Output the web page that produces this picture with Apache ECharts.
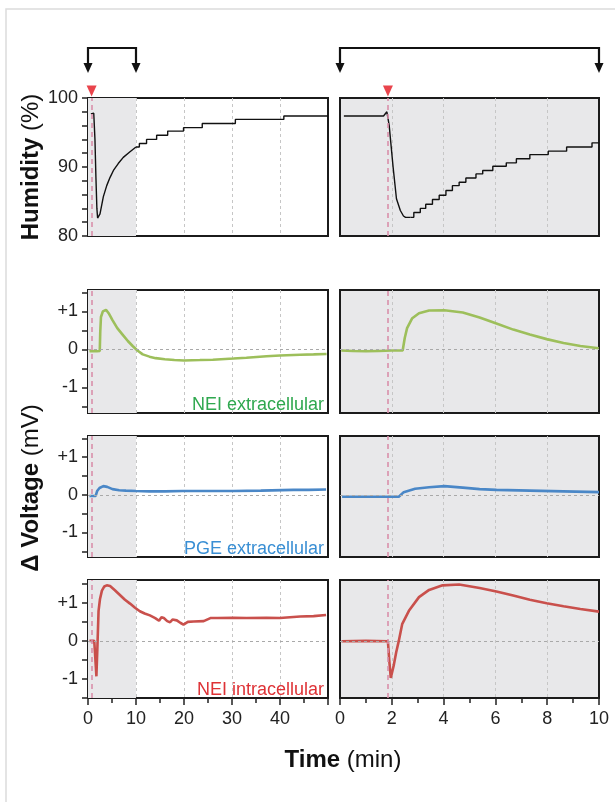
<!DOCTYPE html>
<html>
<head>
<meta charset="utf-8">
<title>Humidity and voltage response</title>
<script src="https://cdn.jsdelivr.net/npm/echarts@6/dist/echarts.min.js"></script>
<style>
  html, body { margin: 0; padding: 0; background: #fff; }
  #main { width: 615px; height: 802px; }
</style>
</head>
<body>
<div id="main"></div>
<script type="text/javascript">
// stimulus onset (min)
var stimLeft = 0.75;
var stimRight = 1.85;

// humidity (%) : [time, value]
var humLeftDrop = [[0.6, 97.7], [1.2, 97.8], [1.3, 98.0], [1.45, 94], [1.65, 88.5], [1.85, 84], [2.0, 82.6],
  [2.5, 83.2], [3.2, 85.7], [3.9, 87.3], [4.6, 88.5], [5.3, 89.5], [6.3, 90.5], [7.35, 91.4], [8.75, 92.2], [10, 92.9]];
var humLeftSteps = [[10, 92.9], [10.7, 93.4], [12.2, 94.0], [14.3, 94.6], [16.6, 95.2], [19.9, 95.7],
  [23.8, 96.3], [30.7, 96.9], [40.8, 97.4], [50, 97.4]];
var humRightDrop = [[0.15, 97.4], [1.68, 97.4], [1.81, 98.0], [1.9, 96], [2.05, 90], [2.18, 85.4],
  [2.33, 83.7], [2.45, 82.9], [2.53, 82.7], [2.72, 82.7]];
var humRightSteps = [[2.72, 82.7], [2.85, 83.4], [3.1, 84.0], [3.31, 84.6], [3.57, 85.3], [3.83, 85.9],
  [4.09, 86.6], [4.34, 87.3], [4.6, 87.8], [4.86, 88.4], [5.25, 89.0], [5.51, 89.5], [5.9, 90.1],
  [6.42, 90.6], [6.81, 91.2], [7.33, 91.8], [8.04, 92.3], [8.75, 92.9], [9.73, 93.5], [10, 93.5]];

// delta voltage (mV) : [time, value]
var neiExtLeft = [[0.3, -0.05], [1.0, -0.04], [1.8, -0.05], [2.45, -0.04], [2.55, 0.45], [2.7, 0.85],
  [3.1, 1.0], [3.75, 1.04], [4.3, 0.95], [5.1, 0.77], [6.1, 0.56], [7.2, 0.39], [8.3, 0.22], [9.3, 0.09],
  [10.3, -0.03], [11.4, -0.13], [12.8, -0.19], [14.1, -0.23], [16, -0.26], [18, -0.28], [20, -0.29],
  [23.3, -0.28], [26, -0.27], [30.3, -0.24], [33, -0.22], [37.2, -0.18], [40, -0.16], [44.2, -0.14],
  [47, -0.13], [49.7, -0.12]];
var neiExtRight = [[0.05, -0.03], [0.5, -0.04], [1.0, -0.05], [1.5, -0.04], [2.0, -0.03], [2.42, -0.03],
  [2.5, 0.3], [2.59, 0.56], [2.79, 0.82], [3.05, 0.95], [3.44, 1.02], [4.03, 1.03], [4.74, 0.97],
  [5.39, 0.84], [6.04, 0.68], [6.69, 0.52], [7.33, 0.39], [7.98, 0.27], [8.63, 0.17], [9.28, 0.09], [9.99, 0.03]];
var pgeLeft = [[0.3, -0.03], [1.6, -0.03], [1.9, 0.1], [2.4, 0.18], [3.2, 0.23], [4, 0.21], [5.1, 0.15],
  [6.5, 0.12], [7.9, 0.11], [10, 0.1], [12.8, 0.09], [16, 0.09], [19.7, 0.1], [25, 0.1], [30.3, 0.1],
  [36, 0.11], [42.8, 0.13], [46, 0.13], [49.6, 0.14]];
var pgeRight = [[0.08, -0.05], [1, -0.05], [2.27, -0.05], [2.46, 0.07], [2.9, 0.16], [3.44, 0.2],
  [4.03, 0.23], [4.74, 0.19], [5.39, 0.15], [6.04, 0.13], [7.33, 0.11], [8.63, 0.09], [10, 0.07]];
var neiIntLeft = [[0.3, 0], [1.3, 0], [1.5, -0.4], [1.75, -0.93], [1.95, -0.2], [2.2, 0.79], [2.5, 1.1],
  [2.9, 1.32], [3.4, 1.43], [3.9, 1.46], [4.6, 1.44], [5.6, 1.33], [6.7, 1.2], [7.7, 1.08], [8.75, 0.98],
  [9.8, 0.87], [10.8, 0.78], [11.8, 0.72], [12.9, 0.67], [14, 0.6], [14.8, 0.53], [15.3, 0.62], [15.8, 0.6],
  [16.5, 0.52], [17.1, 0.49], [17.6, 0.56], [18.5, 0.54], [19.3, 0.47], [19.9, 0.43], [20.8, 0.5], [22, 0.51],
  [24.1, 0.52], [25.5, 0.6], [27, 0.6], [30.3, 0.61], [33, 0.6], [37.2, 0.61], [40, 0.6], [44.2, 0.64],
  [47, 0.65], [49.6, 0.68]];
var neiIntRight = [[0.06, -0.01], [1.0, 0.0], [1.85, -0.01], [1.9, -0.5], [1.96, -0.97], [2.07, -0.66],
  [2.17, -0.3], [2.27, 0.0], [2.4, 0.44], [2.66, 0.79], [3.05, 1.15], [3.44, 1.34], [3.96, 1.46], [4.6, 1.48],
  [5.39, 1.39], [6.04, 1.3], [6.69, 1.19], [7.33, 1.08], [7.98, 0.99], [8.63, 0.91], [9.28, 0.84], [10, 0.77]];

var traceNames = ['NEI extracellular', 'PGE extracellular', 'NEI intracellular'];
var voltTicks = [-1.5, -1, -0.5, 0, 0.5, 1, 1.5];
var voltLabels = [-1, 0, 1];

var FONT = "'Liberation Sans', Arial, sans-serif";
var voltData = [[neiExtLeft, neiExtRight], [pgeLeft, pgeRight], [neiIntLeft, neiIntRight]];
var lineColors = ['#9dbf5b', '#4a87c7', '#c9504c'];
var textColors = ['#2fa84f', '#3a8fd4', '#de3236'];

var rows = [
  {top: 98, height: 138, min: 80, max: 100},
  {top: 290, height: 123, min: -1.67, max: 1.56},
  {top: 436, height: 121, min: -1.65, max: 1.56},
  {top: 580, height: 118, min: -1.5, max: 1.6}
];
var cols = [
  {left: 88, width: 240, max: 50, interval: 10, stim: stimLeft},
  {left: 340, width: 259, max: 10, interval: 2, stim: stimRight}
];

var chart = echarts.init(document.getElementById('main'));
var grids = [], xAxes = [], yAxes = [], series = [];

rows.forEach(function (row, r) {
  cols.forEach(function (col, c) {
    var g = r * 2 + c;
    var bottomRow = r === rows.length - 1;
    grids.push({
      left: col.left, top: row.top, width: col.width, height: row.height,
      show: true, borderColor: '#1b1b1b', borderWidth: 2,
      backgroundColor: c === 1 ? '#e8e8ea' : 'transparent'
    });
    xAxes.push({
      type: 'value', gridIndex: g, min: 0, max: col.max, interval: col.interval, position: 'bottom',
      axisLine: {show: false, onZero: false},
      axisTick: {show: bottomRow, length: 7, lineStyle: {color: '#222', width: 1.5}},
      minorTick: {show: bottomRow, splitNumber: 2, length: 5, lineStyle: {color: '#222', width: 1.5}},
      axisLabel: {show: bottomRow, fontSize: 18, color: '#222', fontFamily: FONT, margin: 12,
        showMaxLabel: c === 1},
      splitLine: {show: true, showMinLine: false, showMaxLine: false,
        lineStyle: {color: '#c6c6c6', type: [3, 3], width: 1}}
    });
    var y = {
      type: 'value', gridIndex: g, min: row.min, max: row.max,
      axisLine: {show: false, onZero: false},
      splitLine: {show: false},
      axisTick: {show: c === 0, length: 6, lineStyle: {color: '#222', width: 1.5}},
      axisLabel: {show: c === 0, fontSize: 18, color: '#222', fontFamily: FONT, margin: 10}
    };
    if (r === 0) {
      y.interval = 10;
      y.minorTick = {show: c === 0, splitNumber: 5, length: 6, lineStyle: {color: '#222', width: 1.5}};
    } else {
      y.axisTick.customValues = voltTicks;
      y.axisLabel.customValues = voltLabels;
      y.axisLabel.formatter = function (v) { return v > 0 ? '+' + v : String(v); };
    }
    yAxes.push(y);

    // shaded 0-10 min window in the long traces
    if (c === 0) {
      series.push({
        type: 'line', xAxisIndex: g, yAxisIndex: g, data: [], z: 1, silent: true,
        markArea: {silent: true, itemStyle: {color: '#e8e8ea'}, data: [[{xAxis: 0}, {xAxis: 10}]]}
      });
    }
    // stimulus line and zero line
    var guides = [{xAxis: col.stim, lineStyle: {color: '#d98fab', type: [5, 4], width: 1.6}}];
    if (r > 0) guides.push({yAxis: 0, lineStyle: {color: '#a9a9a9', type: [3, 3], width: 1}});
    series.push({
      type: 'line', xAxisIndex: g, yAxisIndex: g, data: [], z: 2, silent: true,
      markLine: {silent: true, symbol: 'none', label: {show: false}, data: guides}
    });

    if (r === 0) {
      var drop = c === 0 ? humLeftDrop : humRightDrop;
      var steps = c === 0 ? humLeftSteps : humRightSteps;
      series.push({type: 'line', xAxisIndex: g, yAxisIndex: g, data: drop, z: 3, symbol: 'none',
        lineStyle: {color: '#111', width: 1.4}});
      series.push({type: 'line', xAxisIndex: g, yAxisIndex: g, data: steps, z: 3, symbol: 'none', step: 'end',
        lineStyle: {color: '#111', width: 1.4}});
      series.push({type: 'scatter', xAxisIndex: g, yAxisIndex: g, data: [[col.stim, row.max]], z: 4,
        clip: false, symbol: 'triangle', symbolRotate: 180, symbolSize: [10, 11], symbolOffset: [0, -7],
        itemStyle: {color: '#e3151f'}});
    } else {
      series.push({type: 'line', xAxisIndex: g, yAxisIndex: g, data: voltData[r - 1][c], z: 3,
        symbol: 'none', lineStyle: {color: lineColors[r - 1], width: 2.6}});
    }
  });
});

chart.setOption({
  animation: false,
  backgroundColor: '#fff',
  grid: grids,
  xAxis: xAxes,
  yAxis: yAxes,
  series: series
});

// annotations placed from the axes
var graphics = [{
  type: 'rect', shape: {x: 6, y: 9, width: 700, height: 900}, silent: true,
  style: {fill: 'none', stroke: '#dcdcdc', lineWidth: 1.5}
}];

function bracket(axisIndex, a, b) {
  var x0 = chart.convertToPixel({xAxisIndex: axisIndex}, a);
  var x1 = chart.convertToPixel({xAxisIndex: axisIndex}, b);
  graphics.push({type: 'polyline', shape: {points: [[x0, 64], [x0, 48], [x1, 48], [x1, 64]]},
    style: {stroke: '#111', lineWidth: 2.2, fill: null}});
  [x0, x1].forEach(function (x) {
    graphics.push({type: 'polygon', shape: {points: [[x - 4.5, 63], [x + 4.5, 63], [x, 73]]},
      style: {fill: '#111'}});
  });
}
bracket(0, 0, 10);
bracket(1, 0, 10);

traceNames.forEach(function (name, i) {
  var gr = grids[(i + 1) * 2];
  graphics.push({type: 'text', x: gr.left + gr.width - 4, y: gr.top + gr.height + 1,
    style: {text: name, fill: textColors[i], fontSize: 18, fontFamily: FONT,
      align: 'right', textAlign: 'right', verticalAlign: 'bottom', textVerticalAlign: 'bottom'}});
});

function title(text, x, y, rot) {
  graphics.push({type: 'text', x: x, y: y, rotation: rot,
    style: {text: text, fill: '#111', fontSize: 24, fontFamily: FONT,
      rich: {b: {fontWeight: 'bold', fontSize: 24, fontFamily: FONT, fill: '#111'}},
      align: 'center', textAlign: 'center', verticalAlign: 'middle', textVerticalAlign: 'middle'}});
}
title('{b|Humidity} (%)', 31, 167, Math.PI / 2);
title('{b|\u0394 Voltage} (mV)', 31, 488, Math.PI / 2);
title('{b|Time} (min)', 343, 760, 0);

chart.setOption({graphic: graphics});
window.addEventListener('resize', chart.resize);
</script>
</body>
</html>
